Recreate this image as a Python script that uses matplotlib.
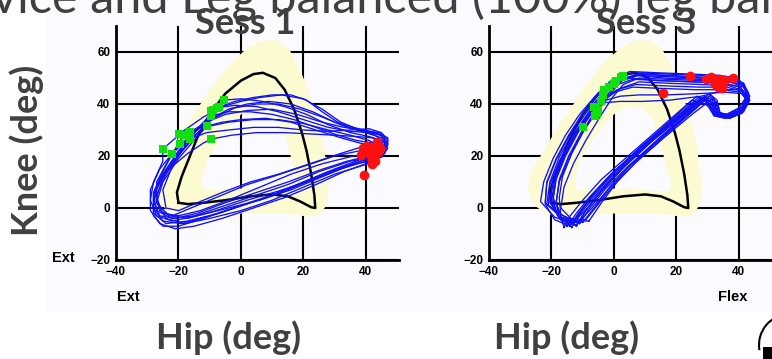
import matplotlib
matplotlib.use('Agg')
import matplotlib.pyplot as plt
from matplotlib.path import Path
from matplotlib.patches import PathPatch, Rectangle, Arc

# ---------------- data ----------------
hip_ticks = [-40, -20, 0, 20, 40]
knee_ticks = [-20, 0, 20, 40, 60]
panel_titles = ["Sess 1", "Sess 3"]

# normative reference loop (black)
ref_hip = [-20, -20.5, -19, -17, -14, -10, -5, 0, 4, 7, 11, 14, 17, 19.5, 21, 22.5, 23.5, 23.8, 22.5, 19, 15, 10, 3, -5, -12, -17, -20]
ref_knee = [2, 6, 12, 18, 27, 36, 44, 49, 51.5, 52, 50, 45.5, 38, 29, 22, 13, 5, 0, 0.3, 2.5, 4.5, 5.2, 4.5, 3, 2, 1.5, 2]

# normative band (pale yellow): outer and inner boundaries
band_outer = [(-22, -2), (-26, 1.5), (-27.5, 7), (-26.5, 14), (-22, 23), (-18, 31), (-13.5, 39), (-8.5, 48), (-3, 56),
              (2, 61.5), (7, 64.5), (11.5, 64.5), (15.5, 61), (19, 53), (22, 44), (24.5, 34), (26.5, 24), (27.5, 15),
              (28, 7), (27.5, 1.5), (25.5, -2.5), (22, -3.5), (17, -2.5), (10, -2), (2, -2), (-6, -2.5), (-14, -3),
              (-19, -3), (-22, -2)]
band_inner = [(-12, 7), (-12.5, 12), (-10.5, 19), (-7, 26), (-3.5, 32), (0.5, 36.5), (4.5, 39), (9, 38.5), (12, 35),
              (14, 29), (15.5, 22), (17, 15), (18.5, 9), (17.5, 6.5), (13, 6.5), (6, 7.5), (-2, 7.5), (-8, 7), (-12, 7)]

# Session 1 cycles (hip, knee)
s1_c01 = [(-25, 22.7), (-18, 30), (-12, 35), (-6, 39), (0, 41), (6, 42.5), (13, 43.5), (20, 42), (26, 38), (32, 33), (38, 30), (43, 29), (46, 27), (46, 23), (43, 20), (36, 17), (26, 12), (16, 7), (6, 3), (-4, 0), (-14, -3), (-22, -5), (-27, -3), (-29, 3), (-28, 10), (-25, 18), (-25, 22.7)]
s1_c02 = [(-22, 20.8), (-16, 28), (-10, 34), (-4, 38), (2, 40), (9, 41), (16, 40), (23, 37), (30, 33), (37, 30), (43, 28), (46, 25), (45, 21), (41, 19), (33, 16), (23, 11), (13, 6), (3, 2), (-7, -2), (-17, -5), (-24, -6), (-28, -2), (-28, 6), (-25, 14), (-22, 20.8)]
s1_c03 = [(-9.6, 26.5), (-3, 28), (5, 29), (14, 29), (22, 28.5), (30, 28), (37, 27.5), (42, 27), (45, 25), (44, 21), (39, 19), (30, 15), (20, 10), (10, 5), (0, 1), (-10, -3), (-19, -6), (-25, -5), (-28, 0), (-27, 8), (-23, 15), (-17, 21), (-12, 25), (-9.6, 26.5)]
s1_c04 = [(-7, 38.8), (-2, 41), (4, 42.5), (10, 43.5), (16, 43.5), (21, 41.5), (26, 37), (31, 33), (36, 31), (41, 29.5), (45, 28), (47, 25), (46, 21), (42, 19.5), (35, 18), (25, 14), (15, 9), (5, 5), (-5, 1), (-15, -3), (-22, -4), (-27, -1), (-28, 5), (-25, 13), (-20, 22), (-14, 30), (-10, 35), (-7, 38.8)]
s1_c05 = [(-5.4, 41.5), (0, 42), (7, 41), (14, 39), (21, 36), (28, 32), (35, 29), (41, 27.5), (45, 26), (46, 22.5), (43, 20), (38, 22), (30, 20), (20, 16), (10, 12), (2, 9), (-8, 4), (-16, 0), (-22, -3), (-26, -1), (-27, 5), (-24, 13), (-19, 22), (-13, 30), (-9, 36), (-5.4, 41.5)]
s1_c06 = [(-16.3, 29.2), (-11, 33), (-5, 36), (2, 37.5), (10, 38), (18, 36), (26, 33), (33, 31), (39, 30), (44, 29), (47, 27), (47, 24), (44, 22), (40, 24), (32, 21), (22, 17), (12, 13), (3, 10), (-6, 6), (-14, 2), (-20, -1), (-24, 0), (-25, 7), (-22, 16), (-18, 24), (-16.3, 29.2)]
s1_c07 = [(-19.5, 24.6), (-15, 28), (-10, 31.5), (-4, 33), (4, 34), (12, 34), (20, 32.5), (28, 30), (35, 28), (41, 26), (44, 24), (44, 20), (40, 17), (33, 14), (24, 9), (14, 4), (4, 0), (-6, -4), (-15, -7), (-21, -8), (-26, -6), (-29, -1), (-29, 7), (-26, 15), (-22, 21), (-19.5, 24.6)]
s1_c08 = [(-10.9, 31.5), (-6, 33), (0, 34), (8, 34.5), (16, 33), (24, 30), (32, 27), (38, 25), (42, 24), (44, 22), (43, 18), (38, 16), (30, 13), (20, 8), (10, 3), (0, -1), (-10, -4), (-18, -6), (-24, -4), (-27, 2), (-25, 10), (-20, 19), (-15, 26), (-10.9, 31.5)]
s1_c09 = [(-18.2, 28.1), (-13, 31), (-8, 35), (-2, 38.5), (5, 40), (12, 40), (19, 38), (26, 35), (33, 31.5), (40, 29), (45, 27), (47, 23), (45, 19.5), (40, 18), (32, 15), (22, 10.5), (12, 6.5), (2, 3), (-8, -1), (-17, -4), (-23, -3), (-27, 2), (-27, 10), (-23, 19), (-18.2, 28.1)]
s1_c10 = [(-9.6, 35.4), (-4, 37), (3, 37), (10, 36), (17, 34), (24, 31), (31, 28), (37, 26), (42, 25), (45, 24), (46, 21), (43, 18.5), (37, 17), (28, 14), (18, 9), (8, 4), (-2, 0), (-12, -4), (-20, -7), (-25, -7), (-28, -3), (-28, 5), (-24, 14), (-18, 23), (-13, 30), (-9.6, 35.4)]
s1_c11 = [(-16.3, 26.5), (-11, 29), (-4, 30), (4, 31), (12, 31), (20, 30), (28, 29.5), (35, 30), (41, 30.5), (45, 29), (47, 26), (46, 23), (42, 21), (36, 20), (26, 17), (16, 13), (6, 8), (-4, 3), (-13, -1), (-20, -3), (-25, -2), (-27, 4), (-25, 12), (-20, 21), (-16.3, 26.5)]
s1_c12 = [(-7.7, 38.5), (-2, 39.5), (5, 39), (12, 37), (20, 34), (28, 31), (35, 29.5), (41, 29), (45, 28), (46.5, 25), (45, 22), (41, 20), (34, 18), (25, 14.5), (15, 10), (5, 6), (-5, 2), (-14, -2), (-21, -4), (-26, -3), (-28, 3), (-26, 11), (-21, 20), (-16, 28), (-12, 33), (-7.7, 38.5)]

# Session 3 cycles (hip, knee)
s3_c01 = [(-13, -6), (-18, -3), (-20.5, 3), (-19.5, 11), (-16.5, 20), (-12.5, 29), (-8, 37), (-3.5, 44), (1, 48.5), (7, 51), (16, 50), (27, 49.5), (36, 49), (41.5, 47), (43, 42), (40.5, 37.5), (36, 35), (32.5, 36), (31, 41), (28, 42.5), (20, 34), (11, 25), (2, 15), (-5, 6), (-10, -1), (-13, -6)]
s3_c02 = [(-11, -5), (-17, -3.5), (-22, 2), (-21.5, 10), (-18.5, 19), (-14.5, 28), (-10, 36.5), (-5, 43.5), (0, 49), (6, 52), (15, 51), (26, 50.5), (35, 50), (40.5, 48.5), (43, 43.5), (41, 38), (37, 35.5), (33, 37), (32, 42), (30.5, 44), (23, 35.5), (14, 26), (5, 16), (-2, 7), (-7, 0), (-11, -5)]
s3_c03 = [(-15, -7), (-17.5, -4), (-18.5, 2), (-17.5, 10), (-14.5, 19), (-10.5, 28.5), (-6, 36.5), (-2, 42.5), (2, 46), (8, 48.5), (17, 48), (28, 47.5), (37, 47), (41.5, 45), (42.5, 40.5), (40, 36.5), (35.5, 34.5), (32, 35.5), (30, 39.5), (26, 41), (17, 32), (8, 22.5), (-1, 13), (-8, 4), (-12, -2), (-15, -7)]
s3_c04 = [(-9, -4.5), (-15, -4), (-21, 1), (-20.5, 9), (-17.5, 18), (-13.5, 27), (-9, 35), (-4.5, 41), (0, 44.5), (6, 46.5), (15, 46), (26, 45.5), (35, 45.5), (40.5, 44.5), (43, 41), (41, 36.5), (37, 34.5), (34, 36), (33, 40.5), (31.5, 42), (25, 36), (16, 27), (7, 17.5), (0, 9), (-5, 1.5), (-9, -4.5)]
s3_c05 = [(-16, -7.5), (-17, -3), (-17.5, 4), (-16.5, 12), (-13.5, 21), (-9.5, 30), (-5, 38), (-0.5, 45), (3, 49.5), (8.5, 52), (17, 51.5), (28, 51), (37, 50.5), (41.5, 48), (42.5, 43), (40, 38.5), (36, 36), (32, 36.5), (29.5, 40), (25, 41.5), (15, 31), (5, 20.5), (-4, 11), (-10, 3), (-14, -3), (-16, -7.5)]
s3_c06 = [(-12, -6.5), (-19, -3.5), (-23.5, 2.5), (-22.5, 10), (-19.5, 19), (-15.5, 28), (-11, 36), (-6, 43), (-1, 47.5), (5, 50), (14, 49), (25, 48.5), (35, 48), (40.5, 46.5), (43, 41.5), (41, 37), (36.5, 35), (33, 36), (31.5, 40.5), (29, 42.5), (21, 34.5), (12, 25.5), (3, 15.5), (-4, 6.5), (-9, -1), (-12, -6.5)]
s3_c07 = [(-14, -6.5), (-18, -3), (-19.5, 3), (-18.5, 11), (-15.5, 20), (-11.5, 29), (-7, 36.5), (-2.5, 41.5), (2, 43), (8, 43.5), (17, 43.5), (27, 44), (36, 44.5), (41, 44), (43, 40.5), (40.5, 36.5), (36, 34.5), (32, 35.5), (30.5, 40), (27.5, 42), (19, 33.5), (10, 24.5), (1, 14.5), (-6, 5.5), (-11, -1.5), (-14, -6.5)]
s3_c08 = [(-8, -5), (-13, -5), (-17, 0), (-16, 8), (-13, 17), (-9, 26), (-4.5, 35), (-0.5, 42.5), (3, 47.5), (8, 50), (17, 49.5), (28, 49), (37, 48.5), (41.5, 46.5), (43.5, 41.5), (41.5, 37), (37.5, 35), (34, 36.5), (33, 41.5), (31, 43.5), (26, 38), (17, 28.5), (8, 19), (1, 10), (-4, 2), (-8, -5)]
s3_c09 = [(-14, -7), (-19, -4.5), (-22, 1.5), (-21.5, 9.5), (-18.5, 18.5), (-14.5, 27.5), (-10, 36), (-5.5, 43.5), (-1, 49), (5, 52.5), (14, 52), (25, 51.5), (34, 51), (40, 49.5), (43, 44.5), (41, 39), (36.5, 36), (32, 37), (30, 41), (26.5, 43), (18, 33.5), (9, 24), (0, 14), (-7, 5), (-11, -1.5), (-14, -7)]
s3_c10 = [(-11, -6), (-17, -4), (-20.5, 2), (-19.5, 10), (-16.5, 19), (-12.5, 28), (-8, 36), (-3.5, 42), (1, 45.5), (7, 47.5), (16, 47), (27, 46.5), (36, 46.5), (41, 45), (43, 41), (41, 36.5), (37, 34.5), (33.5, 35.5), (32, 40), (29.5, 42), (22, 34), (13, 25), (4, 15.5), (-3, 7), (-8, -0.5), (-11, -6)]
s3_c11 = [(-13.5, -7.5), (-16.5, -4.5), (-18.5, 2), (-17.5, 11), (-14.5, 20), (-10.5, 29), (-6, 37), (-1.5, 44.5), (2.5, 49), (8, 51), (17, 50.5), (28, 50), (37, 49.5), (41.5, 47.5), (43, 42.5), (40.5, 38), (36, 35.5), (32, 36), (30, 40.5), (27, 42.5), (18.5, 33.5), (9.5, 24.5), (0.5, 14.5), (-6.5, 5.5), (-11, -2), (-13.5, -7.5)]
s3_c12 = [(-10, -5.5), (-16, -4.5), (-21.5, 1.5), (-20.5, 10), (-17.5, 19.5), (-13.5, 28.5), (-9, 36.5), (-4.5, 43), (0, 47), (6, 49.5), (15, 49), (26, 48.5), (35, 48), (40.5, 46.5), (43, 42), (41, 37.5), (37, 35), (33.5, 36.5), (32.5, 41), (30.5, 43), (24, 37), (15, 27.5), (6, 17.5), (-1, 8.5), (-6, 0.5), (-10, -5.5)]
s3_c13 = [(-12, -7), (-17.5, -3.5), (-20, 2.5), (-19, 10.5), (-16, 19.5), (-12, 28.5), (-7.5, 36), (-3, 40.5), (2, 41), (9, 41), (18, 41.5), (28, 43), (36, 45.5), (40.5, 45.5), (42.5, 42), (40.5, 37.5), (36.5, 35), (33, 35.5), (31, 40), (28.5, 42), (21, 34.5), (12, 25.5), (3, 15.5), (-4, 6.5), (-9, -1), (-12, -7)]
s3_c14 = [(-12.5, -5), (-17, -2.5), (-19.5, 4), (-18.5, 12), (-15.5, 21), (-11.5, 30), (-7, 38), (-2.5, 45), (2, 49.5), (8, 51.5), (17, 51), (28, 50), (37, 49.5), (41.5, 48), (43.5, 43), (41.5, 38), (37, 35.5), (33, 37), (31.5, 41.5), (29, 43), (21.5, 35.5), (12.5, 26.5), (3.5, 16.5), (-3.5, 7.5), (-8.5, 0), (-12.5, -5)]

# event markers
s1_green_hip = [-25, -22, -19.8, -19.5, -18.2, -16.3, -16.3, -10.9, -9.6, -9.6, -9.6, -7.7, -7, -5.4, -9]
s1_green_knee = [22.7, 20.8, 28.5, 24.6, 28.1, 29.2, 26.5, 31.5, 26.5, 37.3, 35.4, 38.5, 38.8, 41.5, 37.7]
s1_red_hip = [39.4, 38.5, 39, 40.5, 41, 42, 42.5, 43.5, 44, 43, 42, 41.5, 40, 44.5]
s1_red_knee = [12.5, 20.5, 23, 24, 21, 19, 22.5, 25.5, 21.5, 18, 17, 23, 22, 23]
s3_green_hip = [-10, -6, -5, -6.5, -4, -3.5, -3.2, -1.5, 0, 0.8, 2.2, 3, -5.5]
s3_green_knee = [31, 35.5, 37.5, 38.8, 41, 43.5, 45.5, 46.5, 47.5, 49, 50.4, 50.8, 36.5]
s3_red_hip = [24.5, 15.8, 29.5, 31, 33.6, 35, 33.3, 34.6, 32.5, 38, 35.5, 34]
s3_red_knee = [50.8, 44.2, 49.6, 50.2, 49.5, 48.5, 46.5, 46, 47.5, 50, 49.2, 48]

s1_cycles = [s1_c01, s1_c02, s1_c03, s1_c04, s1_c05, s1_c06, s1_c07, s1_c08, s1_c09, s1_c10, s1_c11, s1_c12]
s3_cycles = [s3_c01, s3_c02, s3_c03, s3_c04, s3_c05, s3_c06, s3_c07, s3_c08, s3_c09, s3_c10, s3_c11, s3_c12, s3_c13, s3_c14]

# ---------------- figure ----------------
W, H = 772, 359
fig = plt.figure(figsize=(W / 100, H / 100), dpi=100)
fig.patch.set_facecolor('white')


def fx(px):
    return px / W


def fy(py):
    return 1 - py / H


# faint slide-image backgrounds
fig.patches.append(Rectangle((fx(45), fy(312)), fx(398) - fx(45), fy(0) - fy(312), transform=fig.transFigure,
                             facecolor='#fbfaff', edgecolor='none', zorder=-10))
fig.patches.append(Rectangle((fx(399), fy(312)), fx(772) - fx(399), fy(0) - fy(312), transform=fig.transFigure,
                             facecolor='#fbfaff', edgecolor='none', zorder=-10))

BAND = '#fcfad0'
BLUE = '#1010f5'
GREEN = '#10e010'
RED = '#ff1010'

ax1 = fig.add_axes([fx(116), fy(260), fx(399) - fx(116), fy(26) - fy(260)])
ax2 = fig.add_axes([fx(489), fy(260), fx(772) - fx(489), fy(26) - fy(260)])

panels = [
    (ax1, s1_cycles, s1_green_hip, s1_green_knee, s1_red_hip, s1_red_knee),
    (ax2, s3_cycles, s3_green_hip, s3_green_knee, s3_red_hip, s3_red_knee),
]

for ax, cycles, gh, gk, rh, rk in panels:
    ax.set_zorder(1)
    ax.set_facecolor('none')
    ax.set_xlim(-40, 50.6)
    ax.set_ylim(-20, 70)
    ax.set_xticks(hip_ticks)
    ax.set_yticks(knee_ticks)
    ax.set_axisbelow(True)
    ax.grid(True, color='black', linewidth=1.5)
    for s in ['top', 'right']:
        ax.spines[s].set_visible(False)
    for s in ['left', 'bottom']:
        ax.spines[s].set_linewidth(2.0)
        ax.spines[s].set_zorder(6)
    ax.tick_params(length=0, labelsize=8.5, pad=4)
    for lab in ax.get_xticklabels() + ax.get_yticklabels():
        lab.set_fontweight('bold')
        lab.set_fontfamily('Liberation Sans')

    # band
    verts = list(band_outer) + list(band_inner[::-1])
    codes = ([Path.MOVETO] + [Path.LINETO] * (len(band_outer) - 2) + [Path.CLOSEPOLY] +
             [Path.MOVETO] + [Path.LINETO] * (len(band_inner) - 2) + [Path.CLOSEPOLY])
    ax.add_patch(PathPatch(Path(verts, codes), facecolor=BAND, edgecolor='none', zorder=2))

    ax.plot(ref_hip, ref_knee, color='black', linewidth=1.8, zorder=3, solid_joinstyle='round')
    for cyc in cycles:
        ax.plot([p[0] for p in cyc], [p[1] for p in cyc], color=BLUE, linewidth=0.95, zorder=4,
                solid_joinstyle='round')
    ax.plot(gh, gk, linestyle='none', marker='s', markersize=5.5, color=GREEN, markeredgewidth=0, zorder=5)
    ax.plot(rh, rk, linestyle='none', marker='o', markersize=7, color=RED, markeredgewidth=0, zorder=5)

# slide texts
SLIDE = '#404040'
TF = 'Lato'
fig.text(fx(-8), fy(13), "vice and Leg balanced (100%) leg bal", fontsize=35, color=SLIDE, family=TF,
         ha='left', va='baseline', zorder=0)
fig.text(fx(245), fy(23), panel_titles[0], fontsize=26, color=SLIDE, family=TF, fontweight='bold',
         ha='center', va='center', zorder=3)
fig.text(fx(646), fy(23), panel_titles[1], fontsize=26, color=SLIDE, family=TF, fontweight='bold',
         ha='center', va='center', zorder=3)
fig.text(fx(27), fy(150), "Knee (deg)", fontsize=26, color=SLIDE, family=TF, fontweight='bold',
         ha='center', va='center', rotation=90)
fig.text(fx(229), fy(338), "Hip (deg)", fontsize=26, color=SLIDE, family=TF, fontweight='bold',
         ha='center', va='center')
fig.text(fx(567), fy(338), "Hip (deg)", fontsize=26, color=SLIDE, family=TF, fontweight='bold',
         ha='center', va='center')

AF = 'Liberation Sans'
fig.text(fx(63), fy(258), "Ext", fontsize=10.5, fontweight='bold', family=AF, ha='center', va='center')
fig.text(fx(128), fy(297), "Ext", fontsize=10.5, fontweight='bold', family=AF, ha='center', va='center')
fig.text(fx(733), fy(297), "Flex", fontsize=10.5, fontweight='bold', family=AF, ha='center', va='center')

# partial icon at the bottom-right corner
fig.patches.append(Arc((fx(790), fy(345)), fx(62), 62 / H, theta1=90, theta2=200, transform=fig.transFigure,
                       color='black', linewidth=1.5))
fig.patches.append(Rectangle((fx(763), fy(359)), fx(10), 12 / H, transform=fig.transFigure,
                             facecolor='black', edgecolor='none'))

fig.savefig('out.png', dpi=100)
